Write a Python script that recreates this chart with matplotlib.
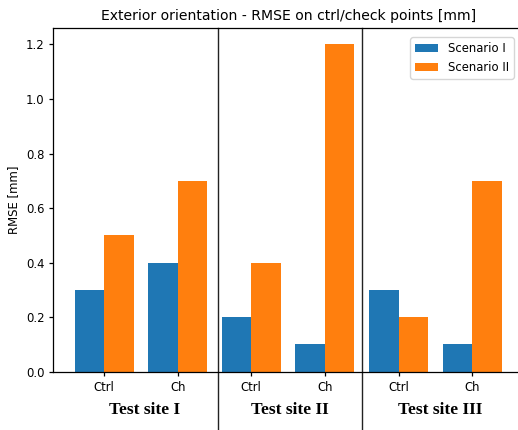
import numpy as np
import matplotlib
matplotlib.use('Agg')
import matplotlib.pyplot as plt
from matplotlib import transforms

# Data
categories = ['Ctrl', 'Ch', 'Ctrl', 'Ch', 'Ctrl', 'Ch']
scenario_1 = [0.3, 0.4, 0.2, 0.1, 0.3, 0.1]
scenario_2 = [0.5, 0.7, 0.4, 1.2, 0.2, 0.7]
sites = ['Test site I', 'Test site II', 'Test site III']
site_centers = [0.55, 2.52, 4.57]
separators = [1.55, 3.5]

scale = 0.84
plt.rcParams['font.size'] = 10 * scale
plt.rcParams['axes.linewidth'] = 0.9
plt.rcParams['xtick.major.width'] = 0.9
plt.rcParams['ytick.major.width'] = 0.9
plt.rcParams['xtick.major.size'] = 3.5 * scale
plt.rcParams['ytick.major.size'] = 3.5 * scale

fig = plt.figure(figsize=(5.18, 4.30), dpi=100)
ax = fig.add_axes([0.1029, 0.1356, 0.9066, 0.799])

x = np.arange(len(categories))
width = 0.4
ax.bar(x - width / 2, scenario_1, width, color='#1f77b4', label='Scenario I')
ax.bar(x + width / 2, scenario_2, width, color='#ff7f0e', label='Scenario II')

ax.set_xticks(x)
ax.set_xticklabels(categories)
ax.set_ylabel('RMSE [mm]')
ax.set_title('Exterior orientation - RMSE on ctrl/check points [mm]', fontsize=12 * scale)
ax.legend(loc='upper right', borderaxespad=0.8)
ax.spines['right'].set_visible(False)

# separators between test sites, running down past the axis
for s in separators:
    ax.axvline(s, ymin=-0.2, ymax=1, color='#222222', linewidth=1.0, clip_on=False)

trans = transforms.blended_transform_factory(ax.transData, ax.transAxes)
for c, name in zip(site_centers, sites):
    ax.text(c, -0.111, name, transform=trans, ha='center', va='center',
            fontsize=12.5, fontweight='bold', family='Liberation Serif')

fig.savefig('out.png', dpi=100)
